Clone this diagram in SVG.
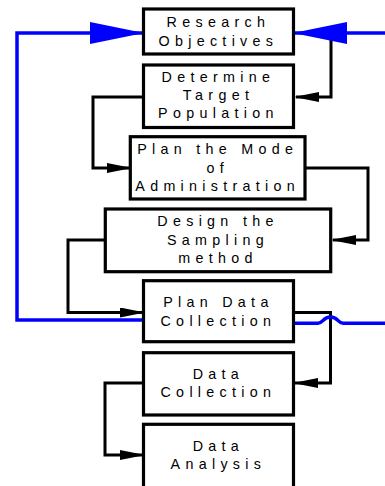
<svg xmlns="http://www.w3.org/2000/svg" width="385" height="486" viewBox="0 0 385 486">
  <style>
    .box rect { fill: #fff; stroke: #000; stroke-width: 3.2; }
    .box text { font-family: "Liberation Sans", Arial, sans-serif; font-size: 14.3px; letter-spacing: 5.3px; text-anchor: middle; fill: #000; }
    .flow { fill: none; stroke: #000; stroke-width: 3; stroke-linejoin: miter; }
    .loop { fill: none; stroke: #0000ff; stroke-width: 3.5; stroke-linejoin: miter; }
  </style>
  <defs>
    <marker id="arrow" markerUnits="userSpaceOnUse" markerWidth="25" markerHeight="11" refX="23" refY="5" orient="auto">
      <path d="M0,0 L25,5 L0,10 z" fill="#000"/>
    </marker>
    <marker id="arrowBlue" markerUnits="userSpaceOnUse" markerWidth="54" markerHeight="23" refX="52" refY="11" orient="auto">
      <path d="M0,0 L54,11 L0,22 z" fill="#0000ff"/>
    </marker>
  </defs>

  <!-- step connectors -->
  <g id="connectors">
    <path class="flow" d="M331,33 V97 H296" marker-end="url(#arrow)"/>
    <path class="flow" d="M143,97 H93 V168 H130" marker-end="url(#arrow)"/>
    <path class="flow" d="M305,168 H368 V240 H333" marker-end="url(#arrow)"/>
    <path class="flow" d="M105,240 H68 V312.5 H143" marker-end="url(#arrow)"/>
    <path class="flow" d="M293,312.5 H330.5 V383 H295" marker-end="url(#arrow)"/>
    <path class="flow" d="M143,383 H105 V455 H143" marker-end="url(#arrow)"/>
    <!-- feedback loops -->
    <path class="loop" d="M146,320 H17 V33 H142" marker-end="url(#arrowBlue)"/>
    <path class="loop" d="M385,33 H295" marker-end="url(#arrowBlue)"/>
    <path class="loop" d="M290,323.3 H318 C323,323.3 323,317 330.5,317 C338,317 338,323.3 343,323.3 H385"/>
  </g>

  <g id="research-objectives" class="box">
    <rect x="143.5" y="9" width="150" height="45"/>
    <text x="218.4" y="27">Research</text>
    <text x="218.4" y="46">Objectives</text>
  </g>
  <g id="target-population" class="box">
    <rect x="143.5" y="65" width="150" height="62.5"/>
    <text x="218.4" y="82">Determine</text>
    <text x="218.4" y="100">Target</text>
    <text x="218.4" y="118">Population</text>
  </g>
  <g id="mode-of-administration" class="box">
    <rect x="130.3" y="136.7" width="174.7" height="62.3"/>
    <text x="217.7" y="154">Plan the Mode</text>
    <text x="217.7" y="172.5">of</text>
    <text x="217.7" y="191">Administration</text>
  </g>
  <g id="sampling-method" class="box">
    <rect x="105.3" y="209" width="225.4" height="62.7"/>
    <text x="218" y="226">Design the</text>
    <text x="218" y="245">Sampling</text>
    <text x="218" y="263">method</text>
  </g>
  <g id="plan-data-collection" class="box">
    <rect x="143.5" y="280.7" width="150" height="61"/>
    <text x="218.4" y="306.5">Plan Data</text>
    <text x="218.4" y="325.5">Collection</text>
  </g>
  <g id="data-collection" class="box">
    <rect x="143.5" y="352.7" width="150" height="62.3"/>
    <text x="218.4" y="378.5">Data</text>
    <text x="218.4" y="397">Collection</text>
  </g>
  <g id="data-analysis" class="box">
    <rect x="143.5" y="424.3" width="150" height="80"/>
    <text x="218.4" y="450.5">Data</text>
    <text x="218.4" y="469">Analysis</text>
  </g>
</svg>
